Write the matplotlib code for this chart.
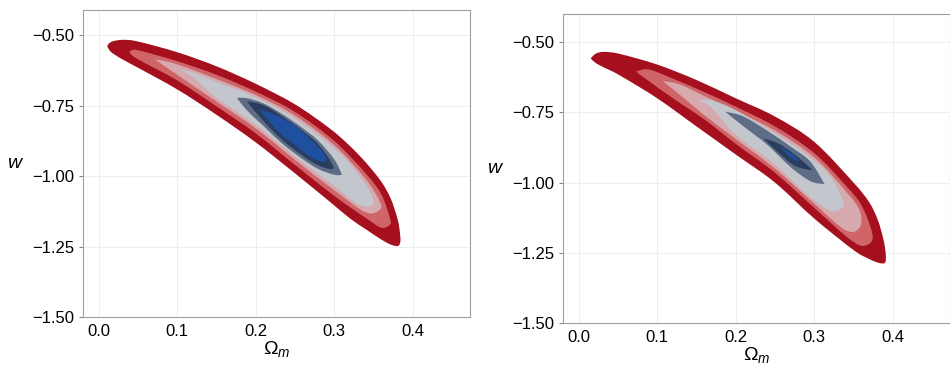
import numpy as np
import matplotlib.pyplot as plt
from matplotlib.path import Path
from matplotlib.patches import PathPatch

plt.rcParams['font.family'] = ['Liberation Sans', 'DejaVu Sans']
plt.rcParams['mathtext.fontset'] = 'custom'
plt.rcParams['mathtext.rm'] = 'Liberation Sans'
plt.rcParams['mathtext.it'] = 'Liberation Sans:italic'

# contour levels, outermost (lowest density) first
level_colors = ['#a50f1e', '#cf6568', '#d5a9ae', '#c4c6ce', '#5d6d86', '#2a3d5e', '#1f4f9f']
x_ticks = [0.0, 0.1, 0.2, 0.3, 0.4]
y_ticks = [-1.50, -1.25, -1.00, -0.75, -0.50]

# left panel: Omega_m stations, upper and lower w boundary of each level
l1_om = [0.011, 0.016, 0.03, 0.05, 0.10, 0.15, 0.20, 0.25, 0.294, 0.32, 0.341, 0.36, 0.372, 0.381, 0.384]
l1_top = [-0.537, -0.523, -0.516, -0.522, -0.560, -0.610, -0.672, -0.745, -0.830, -0.893, -0.954, -1.02, -1.08, -1.156, -1.21]
l1_bot = [-0.540, -0.560, -0.585, -0.615, -0.692, -0.782, -0.880, -0.99, -1.09, -1.15, -1.19, -1.225, -1.243, -1.248, -1.235]
l2_om = [0.04, 0.05, 0.10, 0.15, 0.20, 0.25, 0.30, 0.34, 0.36, 0.371]
l2_top = [-0.557, -0.553, -0.592, -0.640, -0.700, -0.772, -0.875, -0.99, -1.065, -1.15]
l2_bot = [-0.563, -0.585, -0.66, -0.752, -0.848, -0.96, -1.07, -1.148, -1.183, -1.172]
l3_om = [0.075, 0.10, 0.15, 0.20, 0.25, 0.30, 0.34, 0.358]
l3_top = [-0.587, -0.603, -0.655, -0.712, -0.785, -0.89, -1.01, -1.09]
l3_bot = [-0.592, -0.640, -0.735, -0.830, -0.942, -1.05, -1.128, -1.12]
l4_om = [0.105, 0.12, 0.15, 0.20, 0.25, 0.30, 0.33, 0.348]
l4_top = [-0.622, -0.632, -0.665, -0.72, -0.795, -0.90, -0.99, -1.07]
l4_bot = [-0.625, -0.648, -0.722, -0.818, -0.93, -1.035, -1.10, -1.105]
l5_om = [0.177, 0.19, 0.21, 0.234, 0.26, 0.28, 0.30, 0.309]
l5_top = [-0.722, -0.724, -0.742, -0.78, -0.83, -0.875, -0.94, -0.99]
l5_bot = [-0.726, -0.77, -0.822, -0.885, -0.94, -0.975, -0.995, -0.995]
l6_om = [0.19, 0.21, 0.234, 0.26, 0.28, 0.297]
l6_top = [-0.735, -0.748, -0.788, -0.84, -0.888, -0.955]
l6_bot = [-0.739, -0.805, -0.872, -0.928, -0.962, -0.975]
l7_om = [0.205, 0.23, 0.25, 0.27, 0.288]
l7_top = [-0.762, -0.79, -0.822, -0.87, -0.925]
l7_bot = [-0.766, -0.845, -0.89, -0.932, -0.95]

# right panel
r1_om = [0.016, 0.022, 0.032, 0.052, 0.10, 0.15, 0.20, 0.25, 0.30, 0.35, 0.37, 0.381, 0.388, 0.391]
r1_top = [-0.556, -0.541, -0.535, -0.542, -0.58, -0.635, -0.70, -0.765, -0.855, -1.0, -1.07, -1.133, -1.2, -1.25]
r1_bot = [-0.560, -0.575, -0.590, -0.618, -0.70, -0.80, -0.90, -1.0, -1.128, -1.24, -1.272, -1.285, -1.288, -1.28]
r2_om = [0.075, 0.09, 0.12, 0.16, 0.20, 0.25, 0.30, 0.34, 0.36, 0.373]
r2_top = [-0.603, -0.598, -0.63, -0.678, -0.73, -0.80, -0.895, -1.01, -1.08, -1.17]
r2_bot = [-0.609, -0.64, -0.70, -0.775, -0.862, -0.965, -1.09, -1.19, -1.225, -1.21]
r3_om = [0.11, 0.13, 0.16, 0.20, 0.25, 0.30, 0.34, 0.358]
r3_top = [-0.64, -0.652, -0.692, -0.745, -0.815, -0.91, -1.03, -1.10]
r3_bot = [-0.645, -0.69, -0.76, -0.845, -0.95, -1.075, -1.17, -1.16]
r4_om = [0.155, 0.17, 0.20, 0.25, 0.29, 0.32, 0.336]
r4_top = [-0.706, -0.708, -0.742, -0.825, -0.9, -0.975, -1.06]
r4_bot = [-0.71, -0.735, -0.83, -0.935, -1.04, -1.10, -1.09]
r5_om = [0.189, 0.21, 0.24, 0.27, 0.295, 0.312]
r5_top = [-0.749, -0.765, -0.815, -0.872, -0.925, -1.0]
r5_bot = [-0.753, -0.80, -0.865, -0.945, -0.995, -1.005]
r6_om = [0.238, 0.255, 0.275, 0.295]
r6_top = [-0.845, -0.862, -0.9, -0.948]
r6_bot = [-0.85, -0.895, -0.94, -0.955]
r7_om = [0.258, 0.27, 0.28]
r7_top = [-0.875, -0.895, -0.918]
r7_bot = [-0.879, -0.91, -0.925]

left_levels = [(l1_om, l1_top, l1_bot), (l2_om, l2_top, l2_bot), (l3_om, l3_top, l3_bot),
               (l4_om, l4_top, l4_bot), (l5_om, l5_top, l5_bot), (l6_om, l6_top, l6_bot),
               (l7_om, l7_top, l7_bot)]
right_levels = [(r1_om, r1_top, r1_bot), (r2_om, r2_top, r2_bot), (r3_om, r3_top, r3_bot),
                (r4_om, r4_top, r4_bot), (r5_om, r5_top, r5_bot), (r6_om, r6_top, r6_bot),
                (r7_om, r7_top, r7_bot)]


def smooth_outline(om, top, bot):
    # closed outline through the read points, drawn as Catmull-Rom bezier pieces
    pts = np.array(list(zip(om, top)) + list(zip(om[::-1], bot[::-1])))
    n = len(pts)
    verts = [pts[0]]
    codes = [Path.MOVETO]
    for i in range(n):
        p0, p1, p2, p3 = pts[i - 1], pts[i], pts[(i + 1) % n], pts[(i + 2) % n]
        verts += [p1 + (p2 - p0) / 6.0, p2 - (p3 - p1) / 6.0, p2]
        codes += [Path.CURVE4] * 3
    return Path(verts, codes)


fig = plt.figure(figsize=(9.5, 3.66), dpi=100)
ax1 = fig.add_axes([0.0874, 0.1339, 0.4074, 0.8388])
ax2 = fig.add_axes([0.5926, 0.1175, 0.4074, 0.8443])


def draw_panel(ax, levels, ytop):
    ax.grid(True, color='#eeeeee', linewidth=0.8)
    ax.set_axisbelow(True)
    for (om, top, bot), c in zip(levels, level_colors):
        ax.add_patch(PathPatch(smooth_outline(om, top, bot), facecolor=c, edgecolor='none', zorder=2))
    ax.set_xlim(-0.02, 0.473)
    ax.set_ylim(-1.5, ytop)
    ax.set_xticks(x_ticks)
    ax.set_xticklabels(['0.0', '0.1', '0.2', '0.3', '0.4'])
    ax.set_yticks(y_ticks)
    ax.set_yticklabels(['\u22121.50', '\u22121.25', '\u22121.00', '\u22120.75', '\u22120.50'])
    ax.tick_params(axis='both', labelsize=12, length=3, width=0.8, color='#888888', pad=3)
    ax.tick_params(axis='x', length=0, pad=5)
    for s in ax.spines.values():
        s.set_color('#a0a0a0')
        s.set_linewidth(0.8)
    ax.set_xlabel(r'$\Omega_m$', fontsize=14, labelpad=0)
    ax.set_ylabel(r'$w$', fontsize=14, rotation=0, va='center', ha='center')
    ax.yaxis.set_label_coords(-0.175, 0.50)


draw_panel(ax1, left_levels, -0.41)
draw_panel(ax2, right_levels, -0.40)

fig.savefig('out.png', dpi=100)
